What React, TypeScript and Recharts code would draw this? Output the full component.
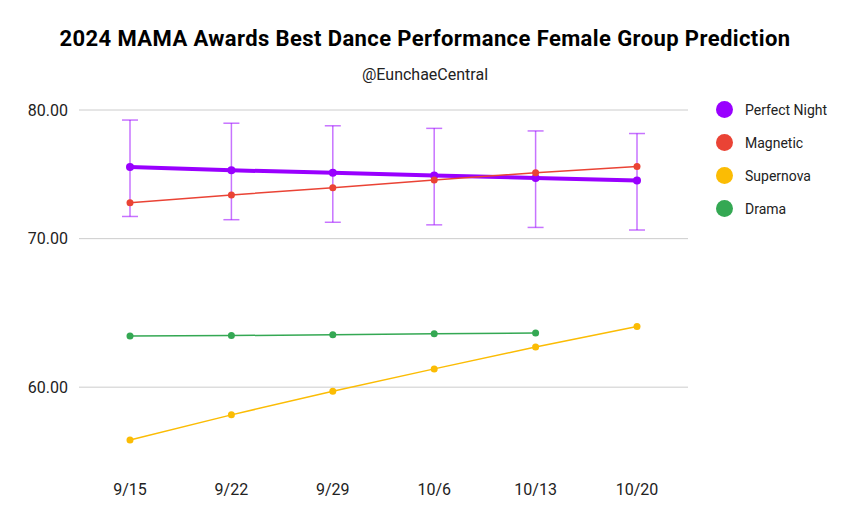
import { CartesianGrid, ErrorBar, Line, LineChart, XAxis, YAxis } from "recharts"

const dates = ["9/15", "9/22", "9/29", "10/6", "10/13", "10/20"]
const perfectNight = [75.4, 75.15, 74.95, 74.75, 74.55, 74.35]
const perfectNightErr = [3.77, 3.76, 3.75, 3.74, 3.73, 3.72]
const magnetic = [72.65, 73.25, 73.8, 74.4, 74.95, 75.45]
const supernova = [56.8, 58.3, 59.75, 61.15, 62.55, 63.9]
const drama: (number | null)[] = [63.27, 63.3, 63.36, 63.42, 63.47, null]
const yTicks = [60, 70, 80]

const series = [
  { key: "perfectNight", name: "Perfect Night", color: "#9900ff" },
  { key: "magnetic", name: "Magnetic", color: "#ea4335" },
  { key: "supernova", name: "Supernova", color: "#fbbc04" },
  { key: "drama", name: "Drama", color: "#34a853" },
]

const data = dates.map((date, i) => ({
  date,
  perfectNight: perfectNight[i],
  perfectNightErr: perfectNightErr[i],
  magnetic: magnetic[i],
  supernova: supernova[i],
  drama: drama[i],
}))

const font = "Roboto, 'Noto Sans', sans-serif"

function ChartLegend() {
  return (
    <div
      style={{
        position: "absolute",
        left: 716,
        top: 93,
        fontFamily: font,
        fontSize: 14,
        color: "#222",
      }}
    >
      {series.map((s) => (
        <div key={s.key} style={{ display: "flex", alignItems: "center", height: 33 }}>
          <span
            style={{
              width: 17,
              height: 17,
              borderRadius: "50%",
              background: s.color,
              display: "inline-block",
              marginRight: 12,
            }}
          />
          {s.name}
        </div>
      ))}
    </div>
  )
}

export default function App() {
  return (
    <div
      style={{
        position: "absolute",
        left: 0,
        top: 0,
        width: 850,
        height: 525,
        background: "#fff",
        fontFamily: font,
      }}
    >
      <div
        style={{
          position: "absolute",
          top: 26,
          width: 850,
          textAlign: "center",
          fontSize: 22,
          letterSpacing: 0.4,
          fontWeight: 700,
          color: "#000",
        }}
      >
        2024 MAMA Awards Best Dance Performance Female Group Prediction
      </div>
      <div
        style={{
          position: "absolute",
          top: 65,
          width: 850,
          textAlign: "center",
          fontSize: 16,
          color: "#222",
        }}
      >
        @EunchaeCentral
      </div>
      <LineChart
        width={850}
        height={525}
        data={data}
        margin={{ top: 110, right: 162, bottom: 24, left: 0 }}
      >
        <CartesianGrid vertical={false} horizontalValues={yTicks} stroke="#cccccc" />
        <XAxis
          dataKey="date"
          axisLine={false}
          tickLine={false}
          padding={{ left: 51, right: 51 }}
          tick={{ fill: "#222", fontSize: 16, fontFamily: font }}
          tickMargin={7}
        />
        <YAxis
          scale="log"
          domain={[55, 80]}
          ticks={yTicks}
          width={79}
          axisLine={false}
          tickLine={false}
          tickMargin={5}
          tickFormatter={(v: number) => v.toFixed(2)}
          tick={{ fill: "#222", fontSize: 16, fontFamily: font }}
        />
        <Line
          dataKey="perfectNight"
          name="Perfect Night"
          stroke="#9900ff"
          strokeWidth={4}
          dot={{ r: 4, fill: "#9900ff", stroke: "#9900ff", strokeWidth: 0 }}
          isAnimationActive={false}
        >
          <ErrorBar dataKey="perfectNightErr" width={8} stroke="#9900ff" strokeOpacity={0.55} strokeWidth={1.5} />
        </Line>
        <Line
          dataKey="magnetic"
          name="Magnetic"
          stroke="#ea4335"
          strokeWidth={1.5}
          dot={{ r: 3.5, fill: "#ea4335", stroke: "#ea4335", strokeWidth: 0 }}
          isAnimationActive={false}
        />
        <Line
          dataKey="supernova"
          name="Supernova"
          stroke="#fbbc04"
          strokeWidth={1.5}
          dot={{ r: 3.5, fill: "#fbbc04", stroke: "#fbbc04", strokeWidth: 0 }}
          isAnimationActive={false}
        />
        <Line
          dataKey="drama"
          name="Drama"
          stroke="#34a853"
          strokeWidth={1.5}
          dot={{ r: 3.5, fill: "#34a853", stroke: "#34a853", strokeWidth: 0 }}
          isAnimationActive={false}
        />
      </LineChart>
      <ChartLegend />
    </div>
  )
}
